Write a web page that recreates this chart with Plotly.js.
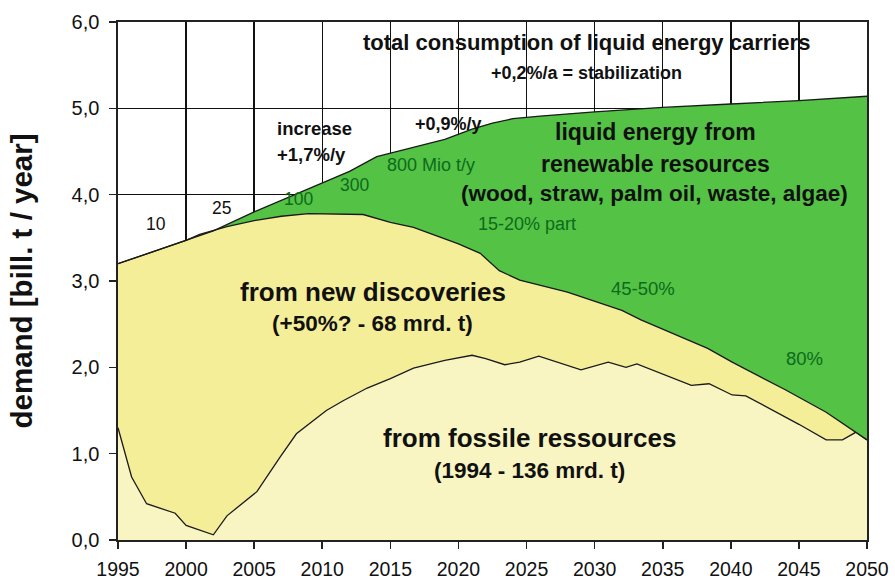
<!DOCTYPE html>
<html>
<head>
<meta charset="utf-8">
<script src="https://cdn.plot.ly/plotly-3.0.1.min.js"></script>
<style>html,body{margin:0;padding:0;background:#fff;}#chart{width:895px;height:580px;}</style>
</head>
<body>
<div id="chart"></div>
<script>
// ---- data (bill. t / year) ----
const fossilYears = [1995, 1996, 1997.1, 1999.2, 2000, 2002, 2003, 2005.2, 2006.9, 2008.1, 2010.3, 2011.5, 2013.3, 2015, 2016.7, 2019, 2021, 2022, 2023.4, 2024.5, 2025.9, 2027, 2029, 2031, 2032.3, 2033.1, 2035, 2037.1, 2038.4, 2040.1, 2041.1, 2043.5, 2045, 2047, 2048.2, 2049.2, 2050];
const fossilValues = [1.30, 0.73, 0.42, 0.31, 0.17, 0.06, 0.28, 0.56, 0.96, 1.23, 1.50, 1.61, 1.76, 1.87, 1.99, 2.08, 2.14, 2.10, 2.03, 2.06, 2.13, 2.07, 1.97, 2.06, 2.00, 2.04, 1.92, 1.79, 1.81, 1.68, 1.67, 1.47, 1.34, 1.16, 1.16, 1.25, 1.16];

const discoveryYears = [1995, 2000, 2001, 2003, 2005, 2007, 2009, 2013, 2015, 2016.7, 2018.6, 2020, 2021.6, 2023, 2024.5, 2028, 2032, 2033.4, 2038.3, 2040.1, 2044, 2047, 2050];
const discoveryValues = [3.20, 3.47, 3.54, 3.63, 3.70, 3.75, 3.78, 3.77, 3.68, 3.62, 3.51, 3.43, 3.32, 3.12, 3.01, 2.87, 2.66, 2.55, 2.22, 2.06, 1.74, 1.48, 1.16];

const totalYears = [1995, 1997, 2000, 2002, 2005, 2008, 2010, 2012, 2014, 2015, 2017, 2019, 2021, 2022.5, 2024, 2026, 2030, 2035, 2040, 2045, 2050];
const totalValues = [3.20, 3.31, 3.47, 3.58, 3.80, 4.00, 4.13, 4.27, 4.44, 4.48, 4.56, 4.64, 4.76, 4.83, 4.88, 4.91, 4.96, 5.01, 5.05, 5.09, 5.14];

const xTicks = [1995, 2000, 2005, 2010, 2015, 2020, 2025, 2030, 2035, 2040, 2045, 2050];

// ---- annotations text ----
const darkGreen = '#0e6a1c';
const labels = [
  {text: 'total consumption of liquid energy carriers', x: 2029.4, y: 5.764, size: 22, bold: true},
  {text: '+0,2%/a = stabilization', x: 2029.4, y: 5.41, size: 18, bold: true},
  {text: 'increase', x: 2006.52, y: 4.77, size: 18.5, bold: true, anchor: 'left'},
  {text: '+1,7%/y', x: 2006.52, y: 4.47, size: 18.5, bold: true, anchor: 'left'},
  {text: '+0,9%/y', x: 2016.66, y: 4.82, size: 18, bold: true, anchor: 'left'},
  {text: '10', x: 1997.77, y: 3.666, size: 17.5},
  {text: '25', x: 2002.62, y: 3.846, size: 17.5},
  {text: '100', x: 2008.28, y: 3.955, size: 17.5, color: darkGreen},
  {text: '300', x: 2012.40, y: 4.109, size: 17.5, color: darkGreen},
  {text: '800 Mio t/y', x: 2017.98, y: 4.34, size: 18, color: darkGreen},
  {text: '15-20% part', x: 2025.02, y: 3.666, size: 18, color: darkGreen},
  {text: '45-50%', x: 2033.53, y: 2.913, size: 18.5, color: darkGreen},
  {text: '80%', x: 2045.40, y: 2.103, size: 18.5, color: darkGreen},
  {text: 'liquid energy from', x: 2034.45, y: 4.726, size: 23, bold: true},
  {text: 'renewable resources', x: 2034.45, y: 4.36, size: 23, bold: true},
  {text: '(wood, straw, palm oil, waste, algae)', x: 2034.37, y: 4.013, size: 22.5, bold: true},
  {text: 'from new discoveries', x: 2013.72, y: 2.874, size: 26, bold: true},
  {text: '(+50%? - 68 mrd. t)', x: 2013.68, y: 2.508, size: 22.5, bold: true},
  {text: 'from fossile ressources', x: 2025.19, y: 1.177, size: 26, bold: true},
  {text: '(1994 - 136 mrd. t)', x: 2025.24, y: 0.81, size: 22.5, bold: true}
];

const font = '"Liberation Sans", Arial, sans-serif';
const lineStyle = {color: '#1a1a1a', width: 1.3};

const traces = [
  {x: fossilYears, y: fossilValues, type: 'scatter', mode: 'lines', fill: 'tozeroy',
   fillcolor: '#f8f5c2', line: lineStyle, name: 'fossile', hoverinfo: 'x+y'},
  {x: discoveryYears, y: discoveryValues, type: 'scatter', mode: 'lines', fill: 'tonexty',
   fillcolor: '#f5ee98', line: lineStyle, name: 'new discoveries', hoverinfo: 'x+y'},
  {x: totalYears, y: totalValues, type: 'scatter', mode: 'lines', fill: 'tonexty',
   fillcolor: '#53c245', line: lineStyle, name: 'renewable', hoverinfo: 'x+y'}
];

const annotations = labels.map(l => ({
  text: l.bold ? '<b>' + l.text + '</b>' : l.text,
  x: l.x, y: l.y, xref: 'x', yref: 'y', showarrow: false,
  xanchor: l.anchor || 'center', yanchor: 'middle',
  font: {family: font, size: l.size, color: l.color || '#111'}
}));

const layout = {
  width: 895, height: 580,
  margin: {l: 118, r: 28, t: 22, b: 40, pad: 0},
  paper_bgcolor: '#ffffff', plot_bgcolor: '#ffffff',
  separators: ', ',
  showlegend: false,
  font: {family: font, color: '#111'},
  xaxis: {
    range: [1995, 2050], tickvals: xTicks, ticktext: xTicks.map(String),
    showgrid: true, gridcolor: '#111', gridwidth: 1.4,
    showline: true, linecolor: '#222', linewidth: 1.6, mirror: true,
    ticks: 'outside', ticklen: 7, tickwidth: 1.6, tickcolor: '#222',
    ticklabelstandoff: 4,
    tickfont: {family: font, size: 19.5, color: '#111'},
    zeroline: false, fixedrange: true
  },
  yaxis: {
    range: [0, 6], dtick: 1, tick0: 0, tickformat: '.1f',
    showgrid: true, gridcolor: '#111', gridwidth: 1.4,
    showline: true, linecolor: '#222', linewidth: 1.6, mirror: true,
    ticks: 'outside', ticklen: 7, tickwidth: 1.6, tickcolor: '#222',
    ticklabelstandoff: 6,
    tickfont: {family: font, size: 20, color: '#111'},
    zeroline: false, fixedrange: true,
    title: {text: '<b>demand [bill. t / year]</b>', standoff: 30,
            font: {family: font, size: 29.5, color: '#111'}}
  },
  annotations: annotations
};

Plotly.newPlot('chart', traces, layout, {displayModeBar: false, staticPlot: true});
</script>
</body>
</html>
